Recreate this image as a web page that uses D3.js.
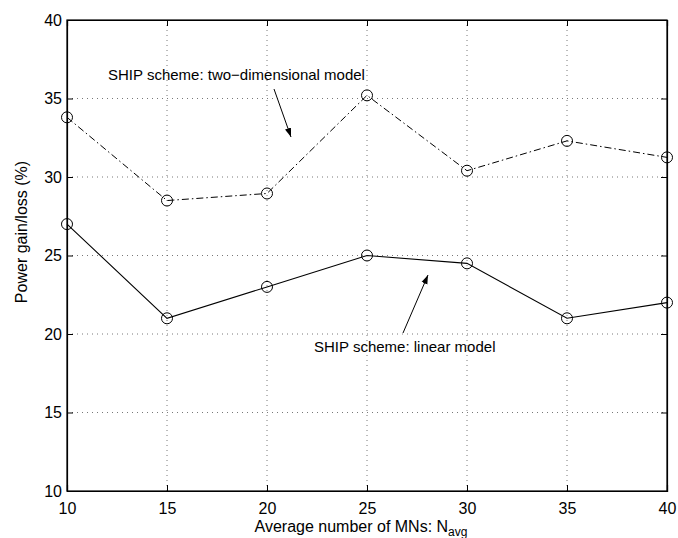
<!DOCTYPE html>
<html>
<head>
<meta charset="utf-8">
<script src="https://cdn.jsdelivr.net/npm/d3@7"></script>
<style>
  body { margin: 0; background: #fff; }
  text { font-family: "Liberation Sans", Arial, sans-serif; fill: #000; }
</style>
</head>
<body>
<svg id="chart" width="678" height="538"></svg>
<script>
// data
var nAvg = [10, 15, 20, 25, 30, 35, 40];
var twoDim = [33.8, 28.5, 28.95, 35.2, 30.4, 32.3, 31.25];
var linear = [27, 21, 23, 25, 24.5, 21, 22];
var xTicks = [10, 15, 20, 25, 30, 35, 40];
var yTicks = [10, 15, 20, 25, 30, 35, 40];

var svg = d3.select("#chart");
var m = {left: 67, right: 11, top: 20, bottom: 47};
var W = 678 - m.left - m.right, H = 538 - m.top - m.bottom;

var x = d3.scaleLinear().domain([10, 40]).range([0, W]);
var y = d3.scaleLinear().domain([10, 40]).range([H, 0]);

var g = svg.append("g").attr("transform", "translate(" + m.left + "," + m.top + ")");

// grid
g.selectAll("line.gx").data(xTicks.slice(1, -1)).enter().append("line")
  .attr("x1", d => x(d)).attr("x2", d => x(d)).attr("y1", 0).attr("y2", H)
  .attr("stroke", "#555").attr("stroke-width", 0.8).attr("stroke-dasharray", "1,4");
g.selectAll("line.gy").data(yTicks.slice(1, -1)).enter().append("line")
  .attr("y1", d => y(d)).attr("y2", d => y(d)).attr("x1", 0).attr("x2", W)
  .attr("stroke", "#555").attr("stroke-width", 0.8).attr("stroke-dasharray", "1,4");

// axes with inward ticks
var tk = 6;
g.append("g").attr("transform", "translate(0," + H + ")")
  .call(d3.axisBottom(x).tickValues(xTicks).tickSize(-tk).tickPadding(12));
g.append("g")
  .call(d3.axisTop(x).tickValues(xTicks).tickSize(-tk).tickFormat(""));
g.append("g")
  .call(d3.axisLeft(y).tickValues(yTicks).tickSize(-tk).tickPadding(5));
g.append("g").attr("transform", "translate(" + W + ",0)")
  .call(d3.axisRight(y).tickValues(yTicks).tickSize(-tk).tickFormat(""));
g.selectAll(".domain").attr("stroke", "#000").attr("stroke-width", 1.2);
g.selectAll(".tick line").attr("stroke", "#000");
g.selectAll(".tick text").attr("font-size", 16).attr("font-family", "Liberation Sans, Arial, sans-serif");
g.append("rect").attr("width", W).attr("height", H)
  .attr("fill", "none").attr("stroke", "#000").attr("stroke-width", 1.2);

// series
var line = d3.line().x((d, i) => x(nAvg[i])).y(d => y(d));
g.append("path").datum(twoDim).attr("d", line)
  .attr("fill", "none").attr("stroke", "#000").attr("stroke-width", 1)
  .attr("stroke-dasharray", "7,3,1.5,3");
g.append("path").datum(linear).attr("d", line)
  .attr("fill", "none").attr("stroke", "#000").attr("stroke-width", 1.1);

[twoDim, linear].forEach(function(s) {
  g.selectAll(null).data(s).enter().append("circle")
    .attr("cx", (d, i) => x(nAvg[i])).attr("cy", d => y(d)).attr("r", 5.5)
    .attr("fill", "none").attr("stroke", "#000").attr("stroke-width", 1);
});

// annotations
svg.append("defs").append("marker").attr("id", "ah")
  .attr("viewBox", "0 0 10 10").attr("refX", 10).attr("refY", 5)
  .attr("markerWidth", 9).attr("markerHeight", 9).attr("orient", "auto")
  .attr("markerUnits", "userSpaceOnUse")
  .append("path").attr("d", "M0,1.5 L10,5 L0,8.5 Z").attr("fill", "#000");

svg.append("text").attr("x", 108).attr("y", 80).attr("font-size", 15)
  .text("SHIP scheme: two\u2212dimensional model");
svg.append("line").attr("x1", 274).attr("y1", 89).attr("x2", 291).attr("y2", 137)
  .attr("stroke", "#000").attr("stroke-width", 1).attr("marker-end", "url(#ah)");

svg.append("text").attr("x", 314).attr("y", 352).attr("font-size", 15)
  .text("SHIP scheme: linear model");
svg.append("line").attr("x1", 403).attr("y1", 333).attr("x2", 428).attr("y2", 275)
  .attr("stroke", "#000").attr("stroke-width", 1).attr("marker-end", "url(#ah)");

// axis labels
var xl = svg.append("text").attr("x", 361).attr("y", 532)
  .attr("text-anchor", "middle").attr("font-size", 16);
xl.append("tspan").text("Average number of MNs: N");
xl.append("tspan").attr("font-size", 12).attr("dy", 4).text("avg");

svg.append("text").attr("transform", "translate(27,232) rotate(-90)")
  .attr("text-anchor", "middle").attr("font-size", 16).text("Power gain/loss (%)");
</script>
</body>
</html>
